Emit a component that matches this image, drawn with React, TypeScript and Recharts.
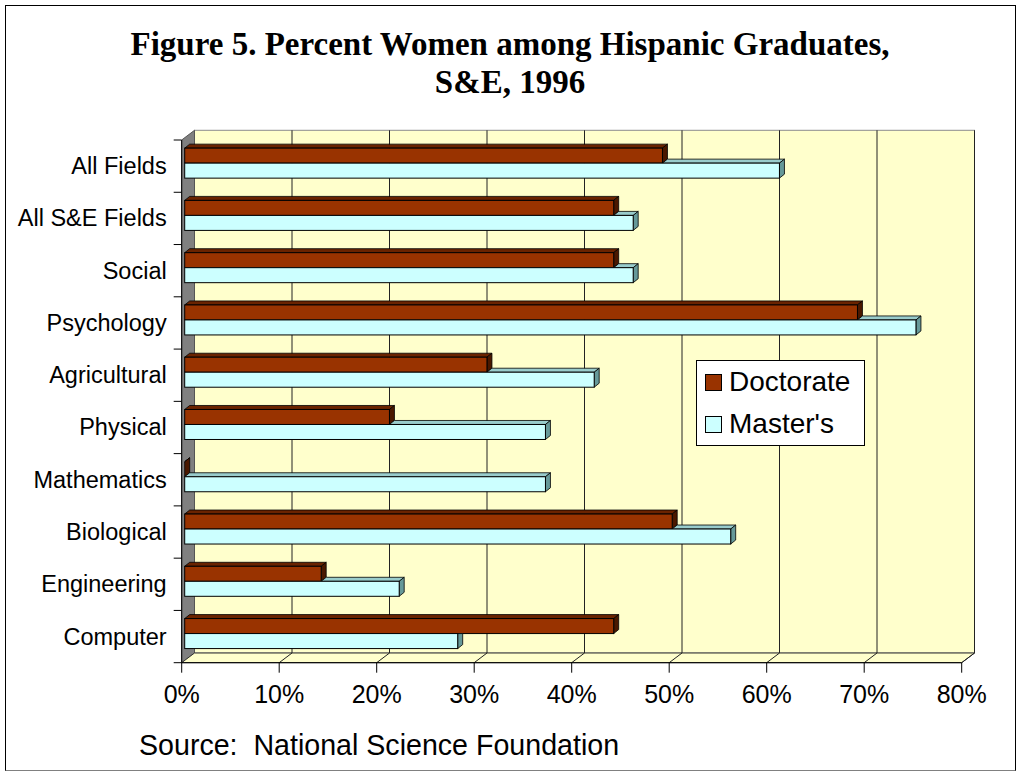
import React from 'react'
import {
  BarChart,
  Bar,
  XAxis,
  YAxis,
  Legend,
  ReferenceArea,
  ReferenceLine,
} from 'recharts'

// categories top -> bottom, values in percent
const categories = [
  'All Fields',
  'All S&E Fields',
  'Social',
  'Psychology',
  'Agricultural',
  'Physical',
  'Mathematics',
  'Biological',
  'Engineering',
  'Computer',
]
const doctorate = [49, 44, 44, 69, 31, 21, 0, 50, 14, 44]
const masters = [61, 46, 46, 75, 42, 37, 37, 56, 22, 28]
const xTicks = [0, 10, 20, 30, 40, 50, 60, 70, 80]
const gridValues = [10, 20, 30, 40, 50, 60, 70, 80]

const seriesNames = ['Doctorate', "Master's"]
const seriesColors = ['#993300', '#CCFFFF']

const data = categories.map((field, i) => ({
  field,
  doctorate: doctorate[i],
  masters: masters[i],
}))

const SANS = '"Liberation Sans", Arial, sans-serif'
const SERIF = '"Liberation Serif", "Times New Roman", serif'

// 3d look: wall depth and bar placement inside the box
const WALL_DX = 12.8
const WALL_DY = -9.7
const BAR_SHIFT_X = 3
const BAR_SHIFT_Y = -3
const BAR_DX = 5
const BAR_DY = -4

const pts = (a: number[][]) => a.map((p) => p.join(',')).join(' ')

const Walls = (props: any) => {
  const { x, y, width, height } = props
  const b = y + height
  return (
    <g>
      <rect x={x + WALL_DX} y={y + WALL_DY} width={width} height={height} fill="#FFFFCC" stroke="#8c8c8c" />
      <polygon
        points={pts([[x, y], [x + WALL_DX, y + WALL_DY], [x + WALL_DX, b + WALL_DY], [x, b]])}
        fill="#808080"
        stroke="#555"
      />
      <polygon
        points={pts([[x, b], [x + WALL_DX, b + WALL_DY], [x + width + WALL_DX, b + WALL_DY], [x + width, b]])}
        fill="#FFFFCC"
        stroke="#333"
      />
    </g>
  )
}

const GridLine = (props: any) => {
  const { x1, y1, y2 } = props
  const top = Math.min(y1, y2)
  const bottom = Math.max(y1, y2)
  return (
    <polyline
      points={pts([[x1, bottom], [x1 + WALL_DX, bottom + WALL_DY], [x1 + WALL_DX, top + WALL_DY]])}
      fill="none"
      stroke="#222"
      strokeWidth={1}
    />
  )
}

const makeBar = (front: string, topC: string, side: string, isMasters: boolean) => (props: any) => {
  const { x, y, width, height, payload } = props
  const fx = x + BAR_SHIFT_X
  const fy = y + BAR_SHIFT_Y
  const w = Math.max(width, 0)
  const h = height
  let topFace = null
  let sidePts = [[fx + w, fy], [fx + w + BAR_DX, fy + BAR_DY], [fx + w + BAR_DX, fy + h + BAR_DY], [fx + w, fy + h]]
  if (isMasters) {
    // part of the top face hidden behind the doctorate bar above
    const dW = payload.masters > 0 ? (w * payload.doctorate) / payload.masters : 0
    if (dW < w) {
      topFace = (
        <polygon
          points={pts([[fx + dW, fy], [fx + dW + BAR_DX, fy + BAR_DY], [fx + w + BAR_DX, fy + BAR_DY], [fx + w, fy]])}
          fill={topC}
          stroke="#000"
          strokeWidth={0.8}
        />
      )
    } else {
      sidePts = [[fx + w, fy], [fx + w + BAR_DX, fy], [fx + w + BAR_DX, fy + h + BAR_DY], [fx + w, fy + h]]
    }
  } else {
    topFace = (
      <polygon
        points={pts([[fx, fy], [fx + BAR_DX, fy + BAR_DY], [fx + w + BAR_DX, fy + BAR_DY], [fx + w, fy]])}
        fill={topC}
        stroke="#000"
        strokeWidth={0.8}
      />
    )
  }
  return (
    <g>
      {topFace}
      <polygon points={pts(sidePts)} fill={side} stroke="#000" strokeWidth={0.8} />
      {w > 0 && <rect x={fx} y={fy} width={w} height={h} fill={front} stroke="#000" strokeWidth={1} />}
    </g>
  )
}

const DoctorateShape = makeBar('#993300', '#6a2300', '#4a1800', false)
const MastersShape = makeBar('#CCFFFF', '#99CCCC', '#669999', true)

const CategoryTick = (props: any) => {
  const { x, y, payload, index, visibleTicksCount } = props
  const half = payload && payload.offset ? payload.offset : 26.15
  const last = index === visibleTicksCount - 1
  return (
    <g>
      <text x={x} y={y} dy="0.34em" textAnchor="end" fill="#000" fontSize={23.5} fontFamily={SANS}>
        {payload.value}
      </text>
      <line x1={x + 7} x2={x + 15} y1={y - half} y2={y - half} stroke="#000" />
      {last && <line x1={x + 7} x2={x + 15} y1={y + half} y2={y + half} stroke="#000" />}
    </g>
  )
}

const LegendBox = () => (
  <div
    style={{
      width: 169,
      height: 86,
      background: '#fff',
      border: '1px solid #000',
      boxSizing: 'border-box',
      fontFamily: SANS,
      fontSize: 28,
      color: '#000',
    }}
  >
    {seriesNames.map((name, i) => (
      <div key={name} style={{ height: 42, display: 'flex', alignItems: 'center', paddingLeft: 8 }}>
        <span
          style={{
            display: 'inline-block',
            width: 15,
            height: 15,
            background: seriesColors[i],
            border: '1px solid #000',
            marginRight: 7,
          }}
        />
        <span>{name}</span>
      </div>
    ))}
  </div>
)

export default function App() {
  return (
    <div
      style={{
        position: 'absolute',
        left: 0,
        top: 0,
        width: 1018,
        height: 773,
        background: '#fff',
      }}
    >
      <div
        style={{
          position: 'absolute',
          left: 5,
          top: 5,
          width: 1009,
          height: 764,
          borderTop: '1px solid #000',
          borderLeft: '1px solid #000',
          borderRight: '1px solid #000',
          borderBottom: '1px solid #808080',
        }}
      />
      <div
        style={{
          position: 'absolute',
          left: 0,
          top: 25,
          width: 1020,
          textAlign: 'center',
          fontFamily: SERIF,
          fontWeight: 'bold',
          fontSize: 33,
          lineHeight: '38px',
          color: '#000',
        }}
      >
        <div>Figure 5. Percent Women among Hispanic Graduates,</div>
        <div>S&amp;E, 1996</div>
      </div>

      <div style={{ position: 'absolute', left: 0, top: 0 }}>
        <BarChart
          width={1018}
          height={773}
          data={data}
          layout="vertical"
          margin={{ top: 140, right: 56.3, left: 11.7, bottom: 50.3 }}
          barGap={0}
          barCategoryGap="21.3%"
        >
          <ReferenceArea x1={0} x2={80} shape={Walls} zIndex={-200} ifOverflow="visible" />
          {gridValues.map((v) => (
            <ReferenceLine key={v} x={v} shape={GridLine} zIndex={-150} ifOverflow="visible" />
          ))}
          <XAxis
            type="number"
            domain={[0, 80]}
            ticks={xTicks}
            interval={0}
            tickFormatter={(v) => `${v}%`}
            height={60}
            tickSize={10}
            tickMargin={13}
            axisLine={{ stroke: '#000' }}
            tickLine={{ stroke: '#000' }}
            tick={{ fill: '#000', fontSize: 25, fontFamily: SANS }}
          />
          <YAxis
            type="category"
            dataKey="field"
            width={170}
            interval={0}
            tickSize={8}
            tickMargin={7}
            axisLine={{ stroke: '#000' }}
            tickLine={{ stroke: 'none' }}
            tick={<CategoryTick />}
          />
          <Legend
            layout="vertical"
            align="center"
            verticalAlign="middle"
            wrapperStyle={{ left: 696, top: 360, width: 169 }}
            content={<LegendBox />}
          />
          <Bar
            dataKey="doctorate"
            name={seriesNames[0]}
            fill={seriesColors[0]}
            shape={DoctorateShape}
            isAnimationActive={false}
          />
          <Bar
            dataKey="masters"
            name={seriesNames[1]}
            fill={seriesColors[1]}
            shape={MastersShape}
            isAnimationActive={false}
          />
        </BarChart>
      </div>

      <div
        style={{
          position: 'absolute',
          left: 139,
          top: 729,
          fontFamily: SANS,
          fontSize: 28.6,
          lineHeight: '32px',
          color: '#000',
          whiteSpace: 'pre',
        }}
      >
        {'Source:  National Science Foundation'}
      </div>
    </div>
  )
}
